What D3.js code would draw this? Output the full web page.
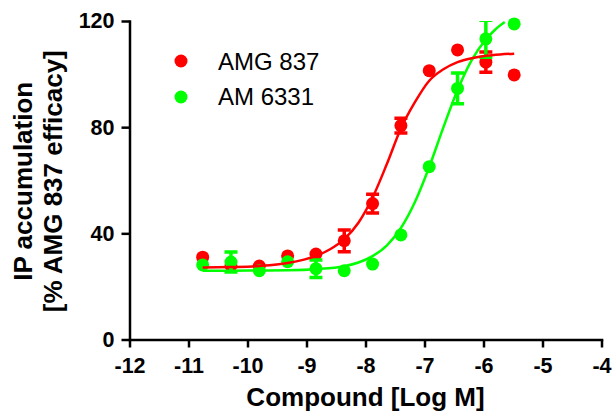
<!DOCTYPE html>
<html>
<head>
<meta charset="utf-8">
<script src="https://cdn.jsdelivr.net/npm/d3@7"></script>
<style>
    body { margin: 0; background: #fff; }
    svg { display: block; font-family: "Liberation Sans", Arial, sans-serif; }
    .axis path, .axis line { stroke: #000; stroke-width: 2.5; }
    .axis text { font-family: "Liberation Sans", Arial, sans-serif; font-size: 21.5px; font-weight: bold; fill: #000; }
    .title { font-size: 26px; font-weight: bold; }
    .legend text { font-size: 24px; }
</style>
</head>
<body>
<div id="chart"></div>
<script>
var width = 615, height = 413,
    margin = {top: 21, right: 13.5, bottom: 73.5, left: 129.5};

// log M concentrations (3-fold dilutions)
var logDose = [-10.76, -10.28, -9.80, -9.32, -8.84, -8.36, -7.88, -7.40, -6.92, -6.44, -5.96, -5.48];

// AMG 837 means and SEM (0 = bar hidden behind dot)
var amgMean = [31.0, 27.8, 27.7, 31.5, 32.2, 37.2, 51.2, 80.6, 101.3, 109.1, 104.5, 99.7];
var amgSem  = [0, 0, 0, 0, 0, 4.1, 3.5, 2.8, 0, 0, 3.8, 0];

// AM 6331 means and SEM
var amMean = [28.1, 29.2, 25.9, 29.3, 26.7, 25.9, 28.4, 39.4, 65.1, 94.6, 113.3, 118.9];
var amSem  = [0, 3.8, 0, 0, 3.3, 0, 0, 0, 0, 5.8, 7.0, 0];

// fitted curves
var amgFitX = [-10.76, -10.28, -9.80, -9.32, -8.84, -8.60, -8.36, -8.12, -7.88, -7.64, -7.40, -7.16, -6.92, -6.68, -6.44, -6.20, -5.96, -5.72, -5.48];
var amgFitY = [27.1, 27.3, 27.7, 28.8, 31.5, 34.0, 37.8, 44.0, 53.5, 66.0, 79.5, 89.5, 97.5, 101.8, 104.5, 106.0, 106.9, 107.4, 107.7];
var amFitX = [-10.76, -10.28, -9.80, -9.32, -8.84, -8.36, -8.12, -7.88, -7.64, -7.40, -7.16, -6.92, -6.68, -6.44, -6.20, -5.96, -5.80, -5.64];
var amFitY = [25.9, 25.9, 26.0, 26.1, 26.5, 27.6, 29.0, 31.4, 35.4, 42.0, 51.9, 65.0, 79.9, 94.0, 105.3, 113.0, 116.8, 119.6];

var xTicks = [-12, -11, -10, -9, -8, -7, -6, -5, -4];
var yTicks = [0, 40, 80, 120];

var seriesNames = ["AMG 837", "AM 6331"];
var seriesColors = ["#ff0000", "#00ff00"];

var x = d3.scaleLinear()
    .domain([-12, -4])
    .range([margin.left, width - margin.right]);

var y = d3.scaleLinear()
    .domain([0, 120])
    .range([height - margin.bottom, margin.top]);

var svg = d3.select("#chart").append("svg")
    .attr("width", width)
    .attr("height", height);

svg.append("defs").append("clipPath")
    .attr("id", "plotClip")
    .append("rect")
    .attr("x", margin.left)
    .attr("y", y(120))
    .attr("width", width - margin.left - margin.right)
    .attr("height", y(0) - y(120));

var xAxis = d3.axisBottom(x)
    .tickValues(xTicks)
    .tickFormat(d3.format("d"))
    .tickSize(8)
    .tickSizeOuter(0)
    .tickPadding(10);

var yAxis = d3.axisLeft(y)
    .tickValues(yTicks)
    .tickSize(8)
    .tickSizeOuter(0)
    .tickPadding(7);

svg.append("g")
    .attr("class", "x axis")
    .attr("transform", "translate(0," + y(0) + ")")
    .call(xAxis)
    .selectAll("text")
    .text(function(d) { return d < 0 ? "-" + Math.abs(d) : d; });

svg.append("g")
    .attr("class", "y axis")
    .attr("transform", "translate(" + x(-12) + ",0)")
    .call(yAxis);

svg.selectAll(".axis path").attr("stroke-linecap", "square");

function pointsOf(means, sems) {
    return logDose.map(function(d, i) { return {x: d, m: means[i], s: sems[i]}; });
}

function drawPoints(data, col) {
    var g = svg.append("g");
    var bars = g.append("g")
        .attr("clip-path", "url(#plotClip)")
        .selectAll("g")
        .data(data.filter(function(d) { return d.s > 0; }))
        .enter().append("g")
        .attr("stroke", col)
        .attr("stroke-width", 3.5);
    bars.append("line")
        .attr("x1", function(d) { return x(d.x); })
        .attr("x2", function(d) { return x(d.x); })
        .attr("y1", function(d) { return y(d.m + d.s); })
        .attr("y2", function(d) { return y(d.m - d.s); });
    [1, -1].forEach(function(sign) {
        bars.append("line")
            .attr("x1", function(d) { return x(d.x) - 6.5; })
            .attr("x2", function(d) { return x(d.x) + 6.5; })
            .attr("y1", function(d) { return y(d.m + sign * d.s); })
            .attr("y2", function(d) { return y(d.m + sign * d.s); });
    });
    g.selectAll("circle")
        .data(data)
        .enter().append("circle")
        .attr("cx", function(d) { return x(d.x); })
        .attr("cy", function(d) { return y(d.m); })
        .attr("r", 6.5)
        .style("fill", col);
}

function drawFit(xs, ys, col) {
    var line = d3.line()
        .x(function(d) { return x(d[0]); })
        .y(function(d) { return y(d[1]); })
        .curve(d3.curveMonotoneX);
    svg.append("path")
        .datum(xs.map(function(v, i) { return [v, ys[i]]; }))
        .attr("fill", "none")
        .attr("stroke", col)
        .attr("stroke-width", 2.5)
        .attr("d", line);
}

drawPoints(pointsOf(amgMean, amgSem), seriesColors[0]);
drawPoints(pointsOf(amMean, amSem), seriesColors[1]);
drawFit(amFitX, amFitY, seriesColors[1]);
drawFit(amgFitX, amgFitY, seriesColors[0]);

// legend
var legend = svg.append("g").attr("class", "legend");
seriesNames.forEach(function(name, i) {
    legend.append("circle")
        .attr("cx", 181)
        .attr("cy", 61 + i * 36)
        .attr("r", 6.5)
        .style("fill", seriesColors[i]);
    legend.append("text")
        .attr("x", 218)
        .attr("y", 69.5 + i * 35.5)
        .text(name);
});

// axis titles
svg.append("text")
    .attr("class", "title")
    .attr("x", (x(-12) + x(-4)) / 2)
    .attr("y", 406)
    .attr("text-anchor", "middle")
    .text("Compound [Log M]");

var yMid = (y(0) + y(120)) / 2 + 1;
svg.append("text")
    .attr("class", "title")
    .attr("transform", "translate(32," + yMid + ") rotate(-90)")
    .attr("text-anchor", "middle")
    .text("IP accumulation");

svg.append("text")
    .attr("class", "title")
    .attr("transform", "translate(62," + yMid + ") rotate(-90)")
    .attr("text-anchor", "middle")
    .text("[% AMG 837 efficacy]");
</script>
</body>
</html>
